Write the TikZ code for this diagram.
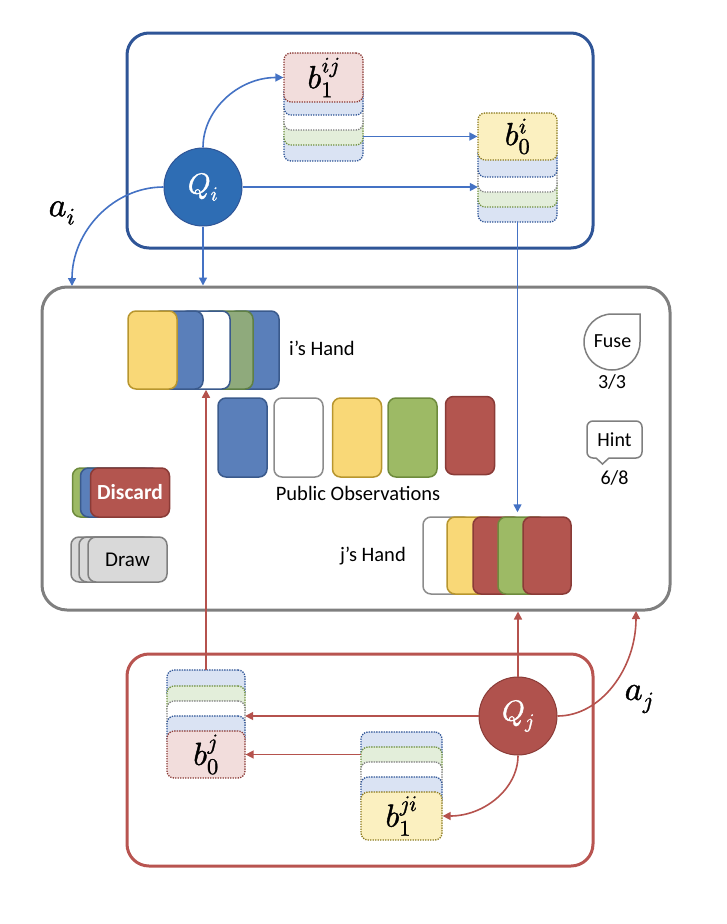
\documentclass[tikz,border=0pt]{standalone}
\usepackage{fontspec}
\usepackage{unicode-math}
\setmainfont{Carlito}
\setmathfont{latinmodern-math.otf}[FakeBold=1.2]
\usetikzlibrary{arrows.meta,calc}
\definecolor{boxblue}{HTML}{2F5597}
\definecolor{arrblue}{HTML}{4472C4}
\definecolor{qiblue}{HTML}{2E6DB4}
\definecolor{qired}{HTML}{B0524D}
\definecolor{qiredD}{HTML}{8A3B37}
\definecolor{arrred}{HTML}{B5524D}
\definecolor{boxred}{HTML}{B85450}
\definecolor{boxgray}{HTML}{7F7F7F}
\definecolor{cardblue}{HTML}{5A7FBA}
\definecolor{cardblueD}{HTML}{3A5A8C}
\definecolor{cardyellow}{HTML}{F9D877}
\definecolor{cardyellowD}{HTML}{B8962E}
\definecolor{cardgreen}{HTML}{9DBA65}
\definecolor{cardgreenD}{HTML}{6E8B3D}
\definecolor{cardgreenI}{HTML}{8FAA7C}
\definecolor{cardgreenID}{HTML}{5F7F45}
\definecolor{cardred}{HTML}{B3554F}
\definecolor{cardredD}{HTML}{8A3B37}
\definecolor{cardwhiteD}{HTML}{8C8C8C}
\definecolor{lpink}{HTML}{F2DDDC}
\definecolor{lblue}{HTML}{DAE3F3}
\definecolor{lgreen}{HTML}{E3EEDA}
\definecolor{lyellow}{HTML}{FBF0C0}
\definecolor{dotblue}{HTML}{2F5597}
\definecolor{dotgreen}{HTML}{70913F}
\definecolor{dotgray}{HTML}{7F7F7F}
\definecolor{dotred}{HTML}{8B3A36}
\definecolor{dotyellow}{HTML}{8C7A1F}
\definecolor{drawgray}{HTML}{D9D9D9}
\definecolor{drawgrayD}{HTML}{7F7F7F}
\begin{document}
\begin{tikzpicture}[x=1pt,y=-1pt,
 arrb/.style={draw=arrblue, line width=1.6pt, -{Triangle[length=8pt,width=8pt]}},
 arrr/.style={draw=arrred, line width=1.6pt, -{Triangle[length=8pt,width=8pt]}},
 card/.style={draw, rounded corners=8pt, line width=1.5pt, inner sep=0pt, minimum width=49pt, minimum height=78pt},
 smallcard/.style={draw, rounded corners=8pt, line width=1.5pt, inner sep=0pt, minimum width=79pt},
 layer/.style={draw, rounded corners=7pt, line width=1.3pt, dash pattern=on 1.3pt off 1.2pt, inner sep=0pt, minimum height=30pt},
 topcard/.style={draw, rounded corners=7pt, line width=1.3pt, dash pattern=on 1.3pt off 1.2pt, inner sep=0pt, font=\fontsize{32}{34}\selectfont},
 stackarea/.style={inner sep=0pt},
 bigbox/.style={draw, line width=3pt, rounded corners=22pt, inner sep=0pt},
 qnode/.style={circle, line width=1pt, minimum size=78pt, inner sep=0pt, text=white, font=\fontsize{29}{31}\selectfont},
 lbl/.style={font=\fontsize{20.5}{23}\selectfont},
 icontxt/.style={font=\fontsize{20}{22}\selectfont, anchor=base, inner sep=0pt},
 iconline/.style={draw=boxgray, line width=1.5pt},
 actlbl/.style={font=\fontsize{34}{36}\selectfont}
]
\useasboundingbox (0,0) rectangle (726,924);

% ---------- big boxes ----------
\node[bigbox, draw=boxblue, minimum width=466pt, minimum height=215pt] (top) at (360,140.5) {};
\node[bigbox, draw=boxgray, minimum width=628pt, minimum height=323pt, rounded corners=25pt] (main) at (356,448.5) {};
\node[bigbox, draw=boxred, minimum width=466pt, minimum height=212pt] (bot) at (360,760) {};

% ---------- top box: Q_i and belief stacks ----------
\node[qnode, fill=qiblue, draw=boxblue] (Qi) at (203,187) {$Q_i$};

% b1^{ij}
\node[layer, minimum width=79pt, fill=lblue, draw=dotblue, minimum height=31pt] (b1ijL4) at (323.5,145.5) {};
\node[layer, minimum width=79pt, fill=lgreen, draw=dotgreen] (b1ijL3) at (323.5,130) {};
\node[layer, minimum width=79pt, fill=white, draw=dotgray] (b1ijL2) at (323.5,115) {};
\node[layer, minimum width=79pt, fill=lblue, draw=dotblue] (b1ijL1) at (323.5,100) {};
\node[topcard, minimum width=79pt, minimum height=49pt, fill=lpink, draw=dotred] (b1ij) at (323.5,77.5) {$b_1^{ij}$};
\node[stackarea, minimum width=79pt, minimum height=108pt] (b1ijS) at (323.5,107) {};

% b0^{i}
\node[layer, minimum width=79pt, fill=lblue, draw=dotblue] (b0iL4) at (517.5,207) {};
\node[layer, minimum width=79pt, fill=lgreen, draw=dotgreen] (b0iL3) at (517.5,192) {};
\node[layer, minimum width=79pt, fill=white, draw=dotgray] (b0iL2) at (517.5,177) {};
\node[layer, minimum width=79pt, fill=lblue, draw=dotblue] (b0iL1) at (517.5,162) {};
\node[topcard, minimum width=79pt, minimum height=47pt, fill=lyellow, draw=dotyellow] (b0i) at (517.5,136.5) {$b_0^{i}$};
\node[stackarea, minimum width=79pt, minimum height=109pt] (b0iS) at (517.5,167.5) {};

% ---------- main box: i's hand ----------
\node[card, minimum width=50pt, fill=cardblue, draw=cardblueD] (iB2) at (254,350) {};
\node[card, minimum width=50pt, fill=cardgreenI, draw=cardgreenID] (iG) at (228,350) {};
\node[card, minimum width=50pt, fill=white, draw=cardblueD] (iW) at (205,350) {};
\node[card, minimum width=50pt, fill=cardblue, draw=cardblueD] (iB1) at (178,350) {};
\node[card, minimum width=49pt, fill=cardyellow, draw=cardyellowD] (iY) at (152.5,350) {};
\node[lbl, anchor=base west, inner sep=0pt] (ihand) at (289,355) {i’s Hand};

% public observations
\node[card, minimum height=79pt, fill=cardblue, draw=cardblueD] (pB) at (242.5,437.5) {};
\node[card, minimum height=79pt, fill=white, draw=cardwhiteD] (pW) at (298.5,437.5) {};
\node[card, minimum height=79pt, fill=cardyellow, draw=cardyellowD] (pY) at (357,437.5) {};
\node[card, minimum height=79pt, fill=cardgreen, draw=cardgreenD] (pG) at (412.5,437.5) {};
\node[card, minimum height=78pt, fill=cardred, draw=cardredD] (pR) at (470,435.5) {};
\node[lbl, anchor=base, inner sep=0pt] (pubobs) at (358,500) {Public Observations};

% j's hand
\node[card, minimum width=48pt, minimum height=77pt, fill=white, draw=cardwhiteD] (jW) at (447,555.5) {};
\node[card, minimum width=48pt, minimum height=77pt, fill=cardyellow, draw=cardyellowD] (jY) at (471,555.5) {};
\node[card, minimum width=48pt, minimum height=77pt, fill=cardred, draw=cardredD] (jR1) at (497,555.5) {};
\node[card, minimum width=48pt, minimum height=77pt, fill=cardgreen, draw=cardgreenD] (jG) at (522,555.5) {};
\node[card, minimum width=48pt, minimum height=77pt, fill=cardred, draw=cardredD] (jR2) at (547,555.5) {};
\node[lbl, anchor=base east, inner sep=0pt] (jhand) at (406,561) {j’s Hand};

% discard pile
\node[smallcard, minimum height=49pt, fill=cardgreen, draw=cardgreenD] (dG) at (112,492.5) {};
\node[smallcard, minimum height=49pt, fill=cardblue, draw=cardblueD] (dB) at (120,492.5) {};
\node[smallcard, minimum height=49pt, fill=cardred, draw=cardredD, text=white, font=\bfseries\fontsize{21.5}{24}\selectfont] (discard) at (130,492.5) {Discard};

% draw pile
\node[smallcard, minimum height=45pt, fill=drawgray, draw=drawgrayD] (dr1) at (110.5,559.5) {};
\node[smallcard, minimum height=45pt, fill=drawgray, draw=drawgrayD] (dr2) at (118.5,559.5) {};
\node[smallcard, minimum height=45pt, fill=drawgray, draw=drawgrayD, font=\fontsize{21}{23}\selectfont] (drawpile) at (127.5,559.5) {Draw};

% fuse token
\draw[iconline, fill=white] (640,342) arc[start angle=0, end angle=270, radius=28] -- (640,314) -- cycle;
\node[icontxt] (fuse) at (612.5,347) {Fuse};
\node[icontxt] (fusecount) at (612,388) {3/3};

% hint token
\node[iconline, fill=white, rounded corners=6pt, minimum width=55pt, minimum height=37pt, inner sep=0pt] (hint) at (614.5,439.5) {};
\fill[white] (596,455.5) rectangle (609,460.5);
\draw[iconline] (596,458) -- (602.5,464) -- (609,458);
\node[icontxt] (hinttxt) at (614.5,446) {Hint};
\node[icontxt] (hintcount) at (614.5,484) {6/8};

% ---------- bottom box: Q_j and belief stacks ----------
\node[qnode, fill=qired, draw=qiredD] (Qj) at (518,716) {$Q_j$};

% b0^{j}
\node[layer, minimum width=78pt, fill=lblue, draw=dotblue] (b0jL1) at (206,685) {};
\node[layer, minimum width=78pt, fill=lgreen, draw=dotgreen] (b0jL2) at (206,701) {};
\node[layer, minimum width=78pt, fill=white, draw=dotgray] (b0jL3) at (206,716) {};
\node[layer, minimum width=78pt, fill=lblue, draw=dotblue] (b0jL4) at (206,731) {};
\node[topcard, minimum width=78pt, minimum height=47pt, fill=lpink, draw=dotred] (b0j) at (206,754.5) {$b_0^{j}$};
\node[stackarea, minimum width=78pt, minimum height=108pt] (b0jS) at (206,724) {};

% b1^{ji}
\node[layer, minimum width=81pt, fill=lblue, draw=dotblue] (b1jiL1) at (401.5,747) {};
\node[layer, minimum width=81pt, fill=lgreen, draw=dotgreen] (b1jiL2) at (401.5,762) {};
\node[layer, minimum width=81pt, fill=white, draw=dotgray] (b1jiL3) at (401.5,777) {};
\node[layer, minimum width=81pt, fill=lblue, draw=dotblue] (b1jiL4) at (401.5,792) {};
\node[topcard, minimum width=81pt, minimum height=48pt, fill=lyellow, draw=dotyellow] (b1ji) at (401.5,816) {$b_1^{ji}$};
\node[stackarea, minimum width=81pt, minimum height=108pt] (b1jiS) at (401.5,786) {};

% free ends of the action arrows
\coordinate (aiend) at (72,286);
\coordinate (ajend) at (636,611);
% corners used to shape the curved connectors
\coordinate (c1) at (Qi.north |- b1ij.west);
\coordinate (c2) at (aiend |- Qi.west);
\coordinate (c3) at (Qj.south |- b1ji.east);
\coordinate (c4) at (ajend |- Qj.east);

% ---------- blue connectors ----------
\draw[arrb] (Qi.north) .. controls ($(Qi.north)!0.55!(c1)$) and ($(b1ij.west)!0.55!(c1)$) .. (b1ij.west);
\draw[arrb] (b1ijS.east |- b0i.west) -- (b0i.west);
\draw[arrb] (Qi.east) -- (Qi.east -| b0iS.west);
\draw[arrb] (Qi.west) .. controls ($(Qi.west)!0.55!(c2)$) and ($(aiend)!0.55!(c2)$) .. (aiend);
\draw[arrb] (Qi.south) -- (Qi.south |- main.north);
\draw[arrb] (b0iS.south) -- ([yshift=4pt]b0iS.south |- jG.north);

% ---------- red connectors ----------
\draw[arrr] (b0jS.north) -- (b0jS.north |- iW.south);
\draw[arrr] (Qj.west) -- (Qj.west -| b0jS.east);
\draw[arrr] (b1jiS.west |- b0j.east) -- (b0j.east);
\draw[arrr] (Qj.south) .. controls ($(Qj.south)!0.55!(c3)$) and ($(b1ji.east)!0.55!(c3)$) .. (b1ji.east);
\draw[arrr] (Qj.north) -- (Qj.north |- main.south);
\draw[arrr] (Qj.east) .. controls ($(Qj.east)!0.55!(c4)$) and ($(ajend)!0.55!(c4)$) .. (ajend);

% action labels
\node[actlbl] (ai) at (62,213) {$a_i$};
\node[actlbl] (aj) at (639,699) {$a_j$};
\end{tikzpicture}
\end{document}
